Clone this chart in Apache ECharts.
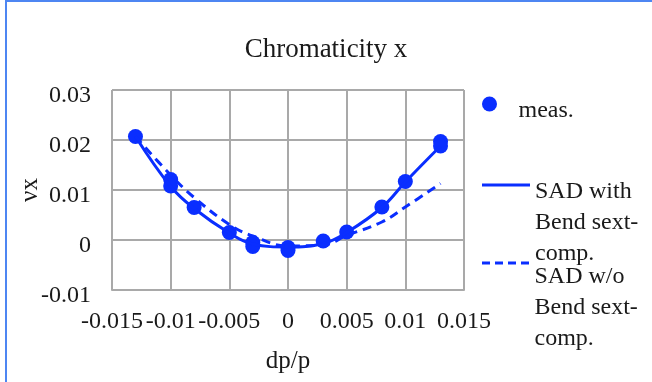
<!DOCTYPE html>
<html>
<head>
<meta charset="utf-8">
<script src="https://cdn.jsdelivr.net/npm/echarts@6/dist/echarts.min.js"></script>
<style>
  html, body { margin: 0; padding: 0; background: #fff; }
  #wrap { position: relative; width: 652px; height: 382px; overflow: hidden; }
  #chart { position: absolute; left: 0; top: 0; width: 652px; height: 382px; }
  #frame { position: absolute; left: 5px; top: 0; width: 647px; height: 382px;
           border-left: 2px solid #4d86f2; border-top: 2px solid #4d86f2;
           box-sizing: border-box; pointer-events: none; }
</style>
</head>
<body>
<div id="wrap">
  <div id="chart"></div>
  <div id="frame"></div>
</div>
<script>
// Measured chromaticity points (dp/p, νx)
const measX = [-0.013, -0.01, -0.01, -0.008, -0.005, -0.003, -0.003, 0, 0, 0.003, 0.005, 0.008, 0.01, 0.013, 0.013];
const measY = [0.0207, 0.0121, 0.0108, 0.0065, 0.0015, -0.0005, -0.0013, -0.0015, -0.0021, -0.0002, 0.0016, 0.0066, 0.0117, 0.0197, 0.0188];

// SAD model curves
const modelX = [-0.013, -0.01, -0.008, -0.005, -0.003, 0, 0.003, 0.005, 0.008, 0.01, 0.013];
const sadWith = [0.0207, 0.0107, 0.0063, 0.0014, -0.0008, -0.0014, -0.0007, 0.0015, 0.0065, 0.0116, 0.0188];
const sadWithout = [0.0207, 0.0130, 0.0085, 0.0031, 0.0008, -0.0012, -0.0010, 0.0009, 0.0036, 0.0066, 0.0113];

// Axis ticks
const xTicks = [-0.015, -0.01, -0.005, 0, 0.005, 0.01, 0.015];
const yTicks = [-0.01, 0, 0.01, 0.02, 0.03];

// Legend entries
const measName = 'meas.';
const withName = ['SAD with', 'Bend sext-', 'comp.'];
const woName = ['SAD w/o', 'Bend sext-', 'comp.'];

const BLUE = '#0a2eff';
const GRID = '#a9a9a9';
const FONT = 'Liberation Serif';
const INK = '#1a1a1a';

const pairs = (xs, ys) => xs.map((x, i) => [x, ys[i]]);

// Multi-line legend label whose first line sits just below the icon:
// a blank spacer line of height `gap` pushes the block down.
function legendLabel(gap) {
  return {
    fontFamily: FONT, fontSize: 24, color: INK,
    rich: {
      gap: { fontFamily: FONT, fontSize: 24, lineHeight: gap, color: INK },
      t: { fontFamily: FONT, fontSize: 24, lineHeight: 31, color: INK }
    }
  };
}
const richLines = lines => '{gap| }\n' + lines.map(l => '{t|' + l + '}').join('\n');

const dashIcon = 'path://M0,0h8v3h-8z M13,0h8v3h-8z M26,0h8v3h-8z M39,0h8v3h-8z';

const chart = echarts.init(document.getElementById('chart'), null, { renderer: 'canvas' });
chart.setOption({
  animation: false,
  backgroundColor: '#fff',
  title: {
    text: 'Chromaticity x',
    left: 321, top: 31, textAlign: 'center',
    textStyle: { fontFamily: FONT, fontSize: 27, fontWeight: 'normal', color: INK }
  },
  grid: { left: 112, right: 188, top: 90, bottom: 92 },
  xAxis: {
    type: 'value',
    min: xTicks[0], max: xTicks[xTicks.length - 1], interval: 0.005,
    name: 'dp/p', nameLocation: 'middle', nameGap: 59,
    nameTextStyle: { fontFamily: FONT, fontSize: 25, color: INK },
    axisLine: { show: true, onZero: false, lineStyle: { color: GRID, width: 2 } },
    axisTick: { show: false },
    splitLine: { show: true, lineStyle: { color: GRID, width: 2 } },
    axisLabel: {
      margin: 20, fontFamily: FONT, fontSize: 24, color: INK, hideOverlap: false,
      formatter: v => String(+v.toFixed(3))
    }
  },
  yAxis: {
    type: 'value',
    min: yTicks[0], max: yTicks[yTicks.length - 1], interval: 0.01,
    name: 'νx', nameLocation: 'middle', nameGap: 69, nameMoveOverlap: false,
    nameTextStyle: { fontFamily: FONT, fontSize: 25, color: INK },
    axisLine: { show: true, lineStyle: { color: GRID, width: 2 } },
    axisTick: { show: false },
    splitLine: { show: true, lineStyle: { color: GRID, width: 2 } },
    axisLabel: {
      margin: 21, fontFamily: FONT, fontSize: 24, color: INK,
      verticalAlign: 'top', lineHeight: 12,
      formatter: v => String(+v.toFixed(3))
    }
  },
  legend: [
    {
      data: [measName], left: 482, top: 76.5, padding: 0,
      itemWidth: 48, itemHeight: 15, icon: 'circle',
      formatter: () => richLines([measName]),
      textStyle: legendLabel(14)
    },
    {
      data: [withName.join('\n')], left: 482, top: 126.5, padding: 0,
      itemWidth: 48, itemHeight: 3, icon: 'rect',
      formatter: () => richLines(withName),
      textStyle: legendLabel(76)
    },
    {
      data: [woName.join('\n')], left: 482, top: 204.5, padding: 0,
      itemWidth: 48, itemHeight: 3, icon: dashIcon,
      formatter: () => richLines(woName),
      textStyle: legendLabel(90)
    }
  ],
  series: [
    {
      name: withName.join('\n'),
      type: 'line', smooth: 0.4, showSymbol: false, symbol: 'none',
      data: pairs(modelX, sadWith),
      lineStyle: { color: BLUE, width: 3 }, itemStyle: { color: BLUE }
    },
    {
      name: woName.join('\n'),
      type: 'line', smooth: 0.4, showSymbol: false, symbol: 'none',
      data: pairs(modelX, sadWithout),
      lineStyle: { color: BLUE, width: 3, type: [9, 6] }, itemStyle: { color: BLUE }
    },
    {
      name: measName,
      type: 'scatter', symbol: 'circle', symbolSize: 15,
      data: pairs(measX, measY),
      itemStyle: { color: BLUE, opacity: 1 }
    }
  ]
});
</script>
</body>
</html>
